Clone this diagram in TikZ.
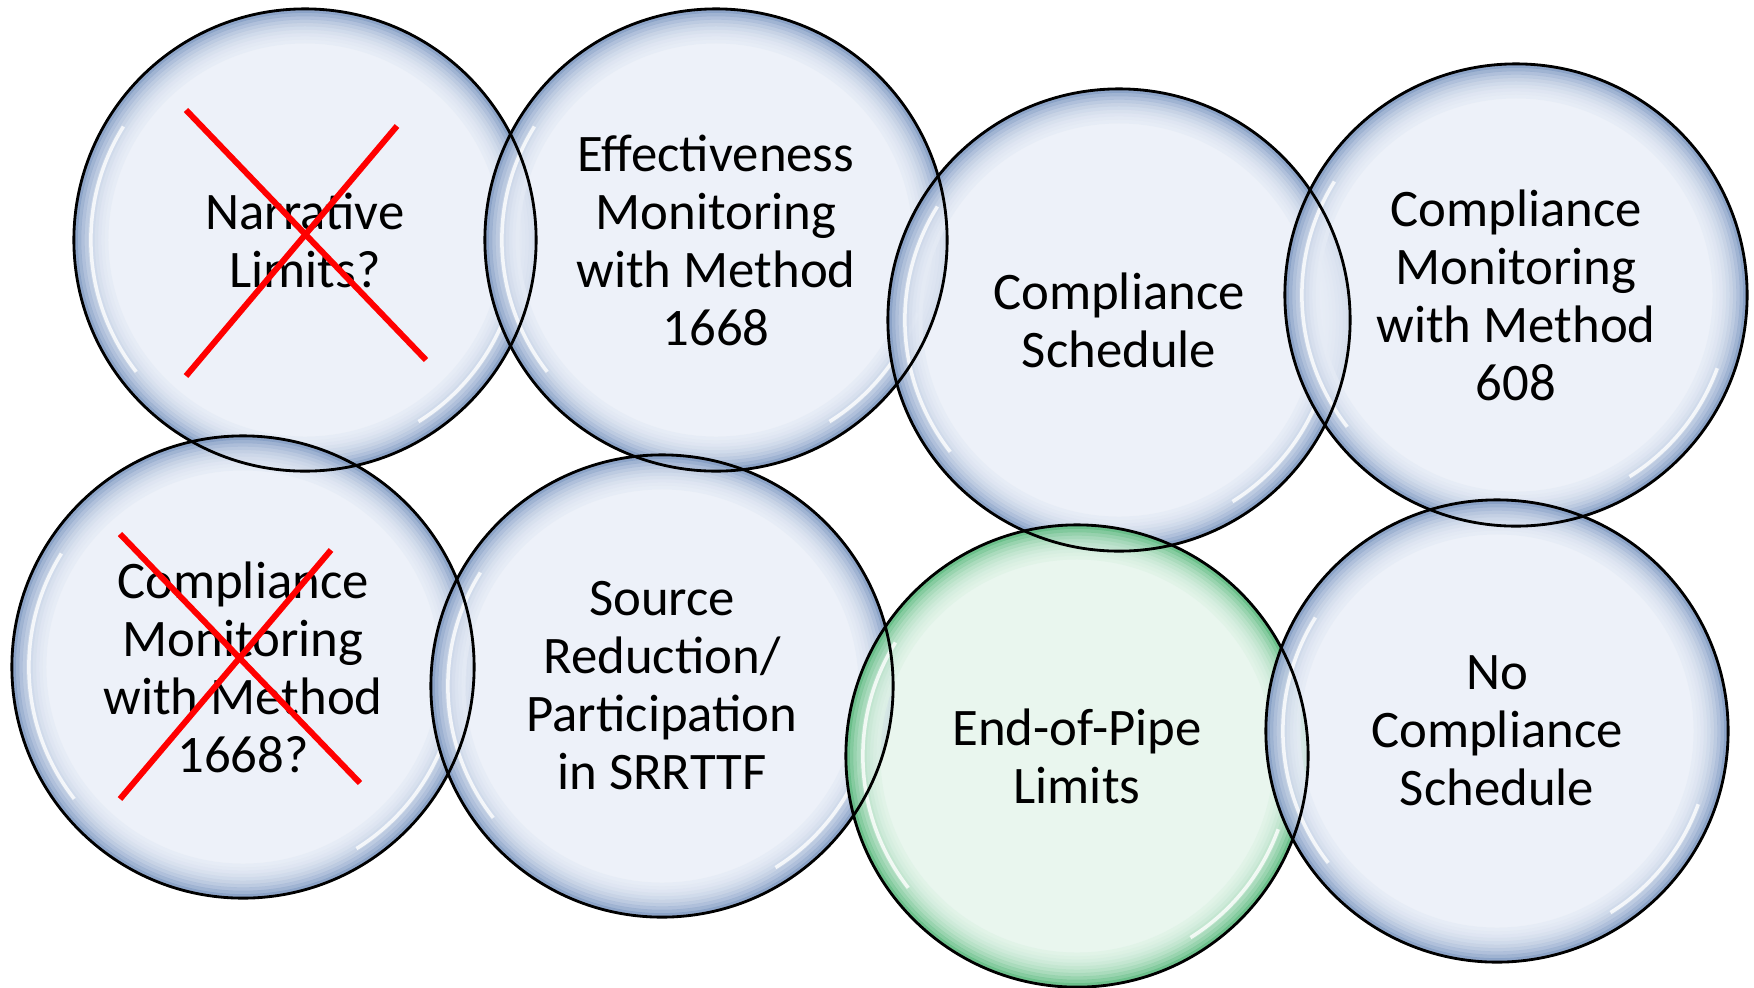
\documentclass[tikz,border=0pt]{standalone}
\usepackage{fontspec}
\setmainfont{Carlito}
\usetikzlibrary{positioning}
\definecolor{bleuin}{HTML}{E9EEF7}
\definecolor{bleuout}{HTML}{6F8CBA}
\definecolor{vertin}{HTML}{E3F4EA}
\definecolor{vertout}{HTML}{45B06D}
\tikzset{
  bulle/.style = {circle, minimum size = 4.62cm, inner sep = 0pt,
    fill = #1in, fill opacity = 0.8, text opacity = 1, align = center,
    font = \fontsize{15}{16.5}\selectfont,
    path picture = {
      \foreach \k/\c in {0/100,1/80,2/63,3/49,4/37,5/27,6/19,7/12,8/7,9/3}
        \draw[#1out!\c!#1in, line width = 0.4mm, opacity = 0.75] (path picture bounding box.center) circle[radius = {2.29cm-\k*0.034cm}];
      \draw[white, line width = 1pt, opacity = 0.8] (path picture bounding box.center) ++(148:2.14cm) arc[start angle = 148, end angle = 218, radius = 2.14cm];
      \draw[white, line width = 1pt, opacity = 0.8] (path picture bounding box.center) ++(-58:2.14cm) arc[start angle = -58, end angle = -20, radius = 2.14cm];}},
  bulle/.default = bleu,
  bord/.style = {black, line width = 0.8pt}
}
\tikzstyle{croix} = [red, line width = 1.7pt]

\begin{document}
\begin{tikzpicture}[x = 0.01cm, y = -0.01cm]
\useasboundingbox (0,0) rectangle (1754,987) ;

\node (nar) [bulle] at (305,240) {Narrative\\Limits?} ;
\node (eff) [bulle] at (716,240) {Effectiveness\\Monitoring\\with Method\\1668} ;
\node (sched) [bulle] at (1119,320) {Compliance\\Schedule} ;
\node (m608) [bulle] at (1516,295) {Compliance\\Monitoring\\with Method\\608} ;
\node (m1668) [bulle] at (243,667) {Compliance\\Monitoring\\with Method\\1668?} ;
\node (src) [bulle] at (662,686) {Source\\Reduction/\\Participation\\in SRRTTF} ;
\node (eop) [bulle = vert] at (1077,756) {End-of-Pipe\\Limits} ;
\node (nosched) [bulle] at (1497,731) {No\\Compliance\\Schedule} ;

% contours par-dessus
\foreach \n in {nar,eff,sched,m608,m1668,src,eop,nosched}
  \draw[bord] (\n.center) circle[radius = 2.31cm] ;

% croix rouges
\draw[croix] (186,110) -- (426,360) ;
\draw[croix] (186,376) -- (397,126) ;
\draw[croix] (120,534) -- (360,783) ;
\draw[croix] (120,799) -- (331,550) ;
\end{tikzpicture}
\end{document}
